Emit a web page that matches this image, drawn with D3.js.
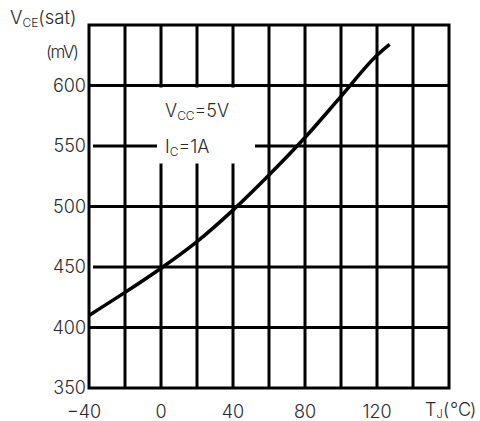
<!DOCTYPE html>
<html>
<head>
<meta charset="utf-8">
<script src="https://cdn.jsdelivr.net/npm/d3@7"></script>
<style>
  body { margin: 0; background: #fff; }
  text { font-family: "Inter", "DejaVu Sans", sans-serif; font-weight: 300; fill: #2a2a2a; }
</style>
</head>
<body>
<script>
// junction temperature (deg C) vs VCE(sat) (mV)
const tempC = [-40, -20, 0, 20, 40, 60, 80, 100, 120, 127];
const vceSat = [410, 429, 449, 471, 497, 526, 557, 591, 625, 634];
const xTicks = [-40, 0, 40, 80, 120];
const yTicks = [350, 400, 450, 500, 550, 600];
const xGrid = [-20, 0, 20, 40, 60, 80, 100, 120, 140];
const yGrid = [400, 450, 500, 550, 600];

const W = 480, H = 421;
const x = d3.scaleLinear().domain([-40, 160]).range([89, 449]);
const y = d3.scaleLinear().domain([350, 650]).range([388, 25]);

const svg = d3.select("body").append("svg")
    .attr("width", W)
    .attr("height", H);

svg.append("rect").attr("width", W).attr("height", H).attr("fill", "#fff");

// grid
svg.append("g").selectAll("line").data(xGrid).join("line")
    .attr("x1", d => x(d)).attr("x2", d => x(d))
    .attr("y1", y(650)).attr("y2", y(350))
    .attr("stroke", "#000").attr("stroke-width", 3);
svg.append("g").selectAll("line").data(yGrid).join("line")
    .attr("x1", d => x(-40) + (d % 100 ? 4 : 0)).attr("x2", x(160))
    .attr("y1", d => y(d)).attr("y2", d => y(d))
    .attr("stroke", "#000").attr("stroke-width", 3);

// white box behind the conditions label
svg.append("rect")
    .attr("x", 157).attr("y", y(600) + 2)
    .attr("width", 98).attr("height", 76)
    .attr("fill", "#fff");

// frame
svg.append("rect")
    .attr("x", x(-40)).attr("y", y(650))
    .attr("width", x(160) - x(-40)).attr("height", y(350) - y(650))
    .attr("fill", "none").attr("stroke", "#000").attr("stroke-width", 3);

// curve
svg.append("path")
    .datum(d3.zip(tempC, vceSat))
    .attr("fill", "none")
    .attr("stroke", "#000")
    .attr("stroke-width", 3.5)
    .attr("d", d3.line()
        .x(d => x(d[0]))
        .y(d => y(d[1]))
        .curve(d3.curveMonotoneX));

// tick labels
svg.append("g").selectAll("text").data(yTicks).join("text")
    .attr("x", 86).attr("y", d => y(d))
    .attr("dy", "0.35em")
    .attr("text-anchor", "end")
    .attr("font-size", 18)
    .text(d => d);
svg.append("g").selectAll("text").data(xTicks).join("text")
    .attr("x", d => x(d) - (d < 0 ? 5 : 0)).attr("y", 418)
    .attr("text-anchor", "middle")
    .attr("font-size", 18)
    .text(d => d < 0 ? "\u2212" + Math.abs(d) : d);

// axis titles
const yt = svg.append("text").attr("x", 10).attr("y", 24).attr("font-size", 18.5);
yt.append("tspan").text("V");
yt.append("tspan").attr("font-size", 12).attr("dy", 3).text("CE");
yt.append("tspan").attr("dy", -3).text("(sat)");

svg.append("text").attr("x", 46).attr("y", 58).attr("font-size", 17)
    .attr("textLength", 33).attr("lengthAdjust", "spacing")
    .text("(mV)");

const xt = svg.append("text").attr("y", 416).attr("font-size", 18);
xt.append("tspan").attr("x", 425).text("T");
xt.append("tspan").attr("font-size", 11).attr("dy", 2).text("J");
xt.append("tspan").attr("x", 443).attr("dy", -2).text("(");
xt.append("tspan").attr("x", 450).text("\u00B0C");
xt.append("tspan").attr("x", 470).text(")");

// test conditions
const c1 = svg.append("text").attr("x", 165).attr("y", 117).attr("font-size", 18);
c1.append("tspan").text("V");
c1.append("tspan").attr("font-size", 12).attr("dy", 3).text("CC");
c1.append("tspan").attr("dy", -3).text("=5V");
const c2 = svg.append("text").attr("x", 165).attr("y", 153).attr("font-size", 18);
c2.append("tspan").text("I");
c2.append("tspan").attr("font-size", 12).attr("dy", 3).text("C");
c2.append("tspan").attr("dy", -3).text("=1A");
</script>
</body>
</html>
